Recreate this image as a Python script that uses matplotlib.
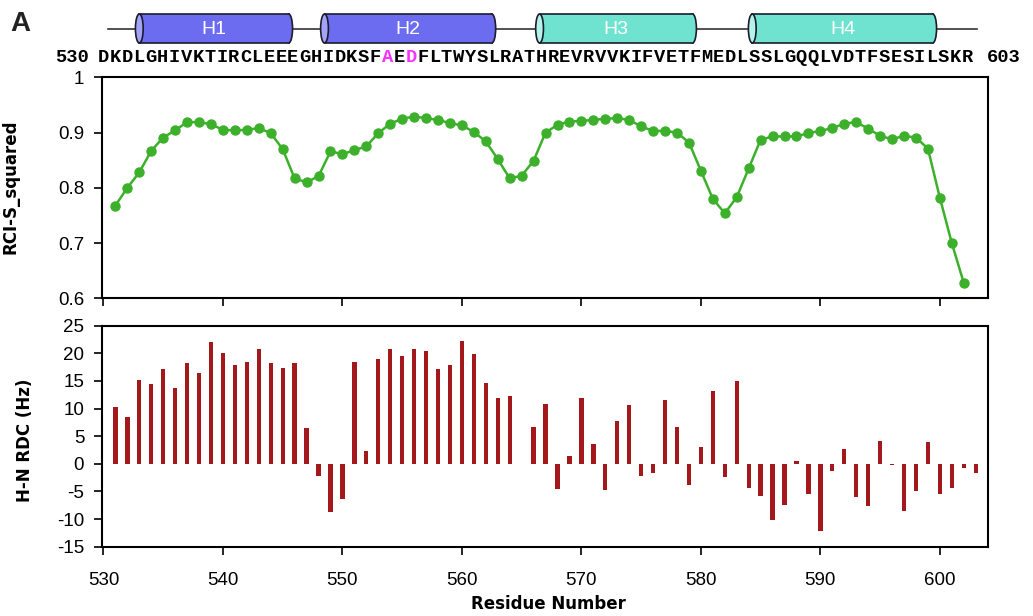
import matplotlib
matplotlib.use('Agg')
import matplotlib.pyplot as plt
from matplotlib.patches import Rectangle, Ellipse
from matplotlib.transforms import blended_transform_factory

plt.rcParams['font.family'] = ['Liberation Sans', 'DejaVu Sans']
plt.rcParams['axes.unicode_minus'] = False  # plain hyphen for negative ticks

# RCI order parameter, residues 531-602
rci_res = list(range(531, 603))
rci_s2 = [0.768, 0.800, 0.828, 0.867, 0.891, 0.904, 0.919, 0.919, 0.915, 0.905,
          0.904, 0.905, 0.908, 0.899, 0.870, 0.817, 0.810, 0.821, 0.866, 0.861,
          0.868, 0.875, 0.899, 0.916, 0.925, 0.929, 0.926, 0.923, 0.917, 0.913,
          0.901, 0.884, 0.852, 0.817, 0.822, 0.849, 0.900,
          0.914, 0.920, 0.921, 0.923, 0.925, 0.926, 0.923, 0.911, 0.903,
          0.903, 0.900, 0.882, 0.831, 0.780, 0.754, 0.783, 0.835, 0.887, 0.893,
          0.893, 0.893, 0.899, 0.903, 0.908, 0.916, 0.919, 0.907, 0.894, 0.888,
          0.894, 0.891, 0.871, 0.782, 0.700, 0.628]

# H-N RDC, residue 565 has no value
rdc_res = list(range(531, 565)) + list(range(566, 604))
rdc_hz = [10.2, 8.4, 15.1, 14.4, 17.2, 13.7, 18.2, 16.5, 22.0, 20.1,
          17.8, 18.5, 20.8, 18.2, 17.4, 18.3, 6.5, -2.2, -8.8, -6.4,
          18.5, 2.3, 18.9, 20.7, 19.6, 20.7, 20.4, 17.2, 17.9, 22.2,
          19.9, 14.7, 11.9, 12.2,
          6.6, 10.8, -4.6, 1.5, 12.0, 3.6, -4.7, 7.7, 10.6, -2.2,
          -1.6, 11.6, 6.6, -3.9, 3.0, 13.1, -2.4, 15.0, -4.4, -5.9,
          -10.2, -7.5, 0.5, -5.5, -12.2, -1.3, 2.6, -6.0, -7.6, 4.1,
          -0.2, -8.6, -4.9, 4.0, -5.5, -4.4, -0.8, -1.6]

# secondary structure header
sequence = "DKDLGHIVKTIRCLEEEGHIDKSFAEDFLTWYSLRATHREVRVVKIFVETFMEDLSSLGQQLVDTFSESILSKR"
seq_first = 530
seq_last = 603
highlight = [554, 556]  # residues shown in magenta
helix_names = ['H1', 'H2', 'H3', 'H4']
helix_start = [533.0, 548.5, 566.5, 584.3]
helix_end = [545.5, 562.5, 579.3, 599.4]
helix_body = ['#6c6cf0', '#6c6cf0', '#6fe3d0', '#6fe3d0']
helix_cap = ['#a4a4f7', '#a4a4f7', '#b4f3ea', '#b4f3ea']

green = '#3cb02b'
red = '#a3181a'

fig = plt.figure(figsize=(10.33, 6.16), dpi=100)
ax1 = fig.add_axes([0.0990, 0.5157, 0.8571, 0.3588])
ax2 = fig.add_axes([0.0990, 0.1125, 0.8571, 0.3588])

ax1.plot(rci_res, rci_s2, '-o', color=green, lw=1.8, markersize=6.5,
         markerfacecolor=green, markeredgecolor=green)
ax2.bar(rdc_res, rdc_hz, width=0.36, color=red)

for ax in (ax1, ax2):
    ax.set_xlim(529.9, 604.0)
    ax.set_xticks(range(530, 601, 10))
    ax.tick_params(direction='out', length=6, width=1.2, labelsize=13.5, colors='black')
    ax.tick_params(axis='y', pad=7)
    for sp in ax.spines.values():
        sp.set_linewidth(1.5)

ax1.set_ylim(0.6, 1.0)
ax1.set_yticks([0.6, 0.7, 0.8, 0.9, 1.0])
ax1.set_yticklabels(['0.6', '0.7', '0.8', '0.9', '1'])
ax1.tick_params(axis='x', labelbottom=False)

ax2.set_ylim(-15, 25)
ax2.set_yticks(range(-15, 26, 5))
ax2.tick_params(axis='x', pad=12)

fig.text(0.010, 1 - 187 / 616, 'RCI-S_squared', rotation=90, ha='center', va='center',
         fontsize=12, fontweight='bold', family=['DejaVu Sans'])
fig.text(0.024, 1 - 440 / 616, 'H-N RDC (Hz)', rotation=90, ha='center', va='center',
         fontsize=12, fontweight='bold', family=['DejaVu Sans'])
fig.text(0.531, 1 - 604 / 616, 'Residue Number', ha='center', va='center',
         fontsize=12, fontweight='bold', family=['DejaVu Sans'])

# panel letter
fig.text(0.010, 1 - 24 / 616, 'A', ha='left', va='center', fontsize=20,
         fontweight='bold', color='#222222')

# helix cartoon, x in residues, y in figure fraction
trans = blended_transform_factory(ax1.transData, fig.transFigure)
yc = 1 - 28.5 / 616
hh = 29 / 616
ew = 0.65
fig.add_artist(plt.Line2D([seq_first + 0.4, seq_last + 0.1], [yc, yc], transform=trans,
                          color='#333333', lw=1.2, zorder=1))
for name, x0, x1, body, cap in zip(helix_names, helix_start, helix_end, helix_body, helix_cap):
    fig.add_artist(Ellipse((x1, yc), ew, hh, transform=trans, facecolor=body,
                           edgecolor='#1c1c2c', lw=1.2, zorder=2))
    fig.add_artist(Rectangle((x0, yc - hh / 2), x1 - x0, hh, transform=trans,
                             facecolor=body, edgecolor='none', zorder=3))
    for yy in (yc - hh / 2, yc + hh / 2):
        fig.add_artist(plt.Line2D([x0, x1], [yy, yy], transform=trans,
                                  color='#1c1c2c', lw=1.2, zorder=4))
    fig.add_artist(Ellipse((x0, yc), ew, hh, transform=trans, facecolor=cap,
                           edgecolor='#1c1c2c', lw=1.2, zorder=5))
    fig.text((x0 + x1) / 2, yc - 0.002, name, transform=trans, ha='center', va='center',
             color='white', fontsize=14, zorder=6)

# sequence row
ys = 1 - 57 / 616
mono = ['Liberation Mono', 'DejaVu Sans Mono']
fig.text(seq_first - 1.2, ys, str(seq_first), transform=trans, ha='right', va='center',
         fontsize=13.5, fontweight='bold', family=mono)
fig.text(seq_last + 0.9, ys, str(seq_last), transform=trans, ha='left', va='center',
         fontsize=13.5, fontweight='bold', family=mono)
for i, ch in enumerate(sequence):
    res = seq_first + i * 0.99
    col = '#ff33ff' if (seq_first + i) in highlight else 'black'
    fig.text(res, ys, ch, transform=trans, ha='center', va='center',
             fontsize=13.5, fontweight='bold', family=mono, color=col)

plt.savefig('out.png', dpi=100)
